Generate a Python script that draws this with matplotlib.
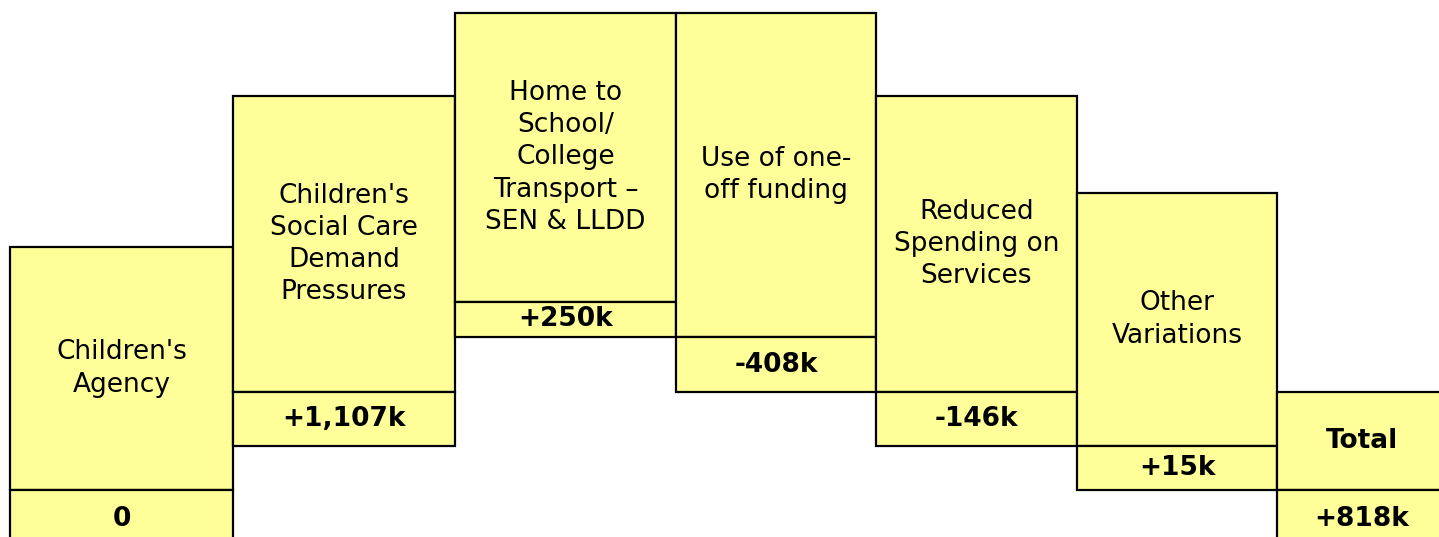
import matplotlib.pyplot as plt

# column labels and value captions
labels = ["Children's\nAgency",
          "Children's\nSocial Care\nDemand\nPressures",
          "Home to\nSchool/\nCollege\nTransport \u2013\nSEN & LLDD",
          "Use of one-\noff funding",
          "Reduced\nSpending on\nServices",
          "Other\nVariations",
          "Total"]
values = ["0", "+1,107k", "+250k", "-408k", "-146k", "+15k", "+818k"]

# step levels of the stylised waterfall (chart units, up is positive)
col_edges = [10, 233, 455, 676, 876, 1077, 1277, 1447]
top_level = [290, 441, 524, 524, 441, 344, 145]
split_level = [47, 145, 235, 200, 145, 91, 47]
bottom_level = [-15, 91, 200, 145, 91, 47, -15]

fill = "#ffff99"

fig = plt.figure(figsize=(14.39, 5.37), dpi=100)
ax = fig.add_axes([0, 0, 1, 1])
ax.set_xlim(0, 1439)
ax.set_ylim(0, 537)
ax.axis("off")

for i in range(len(labels)):
    x0 = col_edges[i]
    w = col_edges[i + 1] - x0
    ax.bar(x0, top_level[i] - split_level[i], width=w, bottom=split_level[i],
           align="edge", color=fill, edgecolor="black", linewidth=1.6)
    ax.bar(x0, split_level[i] - bottom_level[i], width=w, bottom=bottom_level[i],
           align="edge", color=fill, edgecolor="black", linewidth=1.6)
    xc = x0 + w / 2
    ax.text(xc, (top_level[i] + split_level[i]) / 2, labels[i],
            ha="center", va="center", fontsize=19, linespacing=1.31,
            fontweight="bold" if labels[i] == "Total" else "normal")
    vy = (split_level[i] + bottom_level[i]) / 2
    if bottom_level[i] < 0:
        vy = split_level[i] - 29
    ax.text(xc, vy, values[i], ha="center", va="center",
            fontsize=19, fontweight="bold")

fig.savefig("out.png", dpi=100)
